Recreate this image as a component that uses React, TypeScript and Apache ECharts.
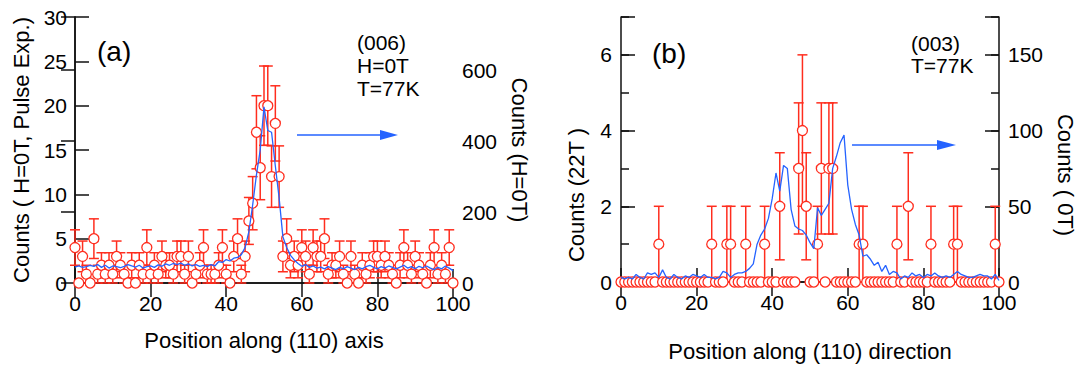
import React, { useEffect, useRef } from "react";
import * as echarts from "echarts";

// Panel (a): value at index i is measured at position i along (110)
const countsA = [
  4, 0, 3, 1, 0, 5, 1, 2, 1, 2,
  1, 3, 2, 1, 0, 2, 0, 2, 1, 4,
  1, 2, 1, 3, 2, 2, 1, 3, 3, 1,
  3, 0, 1, 2, 4, 1, 1, 1, 2, 4,
  1, 0, 3, 5, 1, 3, 7, 9, 17, 13,
  20, 20, 12, 18, 12, 3, 5, 2, 3, 2,
  4, 3, 1, 4, 3, 3, 5, 1, 2, 2,
  3, 1, 0, 3, 1, 0, 2, 1, 2, 3,
  3, 2, 3, 2, 1, 0, 2, 4, 2, 1,
  3, 2, 1, 0, 2, 4, 1, 2, 1, 4,
  0,
];
const lineA = [
  45, 48, 44, 46, 50, 47, 52, 44, 50, 42,
  48, 46, 43, 47, 52, 48, 45, 50, 42, 46,
  48, 44, 51, 47, 54, 50, 55, 52, 56, 50,
  54, 48, 52, 47, 50, 46, 52, 48, 60, 58,
  66, 62, 70, 72, 80, 100, 145, 220, 305, 375,
  497, 430, 425, 330, 240, 130, 100, 78, 65, 55,
  47, 52, 44, 48, 42, 45, 40, 46, 42, 38,
  44, 40, 46, 42, 38, 44, 40, 46, 50, 44,
  40, 46, 42, 48, 44, 40, 45, 50, 42, 46,
  40, 47, 43, 48, 42, 38, 44, 40, 48, 42,
  35,
];
// Panel (b)
const countsB = [
  0, 0, 0, 0, 0, 0, 0, 0, 0, 0,
  1, 0, 0, 0, 0, 0, 0, 0, 0, 0,
  0, 0, 0, 0, 1, 0, 0, 0, 1, 1,
  0, 0, 0, 1, 0, 0, 0, 0, 1, 0,
  0, 0, 2, 0, 0, 0, 0, 3, 4, 2,
  0, 0, 1, 3, 0, 3, 3, 0, 0, 0,
  0, 0, 0, 1, 1, 0, 0, 0, 0, 0,
  0, 0, 0, 1, 0, 0, 2, 0, 0, 0,
  0, 0, 1, 0, 0, 0, 0, 0, 1, 1,
  0, 0, 0, 0, 0, 0, 0, 0, 0, 1,
  0,
];
const lineB = [
  3, 2, 3, 2, 5, 3, 2, 6, 5, 6,
  3, 8, 3, 2, 5, 3, 2, 4, 3, 5,
  4, 3, 5, 3, 3, 2, 3, 7, 6, 3,
  5, 6, 6, 7, 9, 12, 25, 31, 35, 42,
  55, 72, 60, 77, 75, 48, 37, 35, 34, 31,
  26, 22, 49, 44, 48, 52, 75, 83, 92, 97,
  64, 48, 38, 31, 17, 18, 15, 11, 13, 7,
  11, 5, 7, 6, 2, 4, 3, 6, 4, 5,
  3, 5, 4, 6, 4, 3, 4, 3, 5, 7,
  5, 4, 3, 3, 4, 5, 4, 4, 2, 5,
  1,
];
const xTicks = { min: 0, max: 100, interval: 20 };

const RED = "#ff2d1e";
const BLUE = "#2563ff";
const FONT = '"Liberation Sans", Arial, Helvetica, sans-serif';
const INK = "#111";

const errorBar = (params: any, api: any) => {
  const x = api.value(0);
  const y = api.value(1);
  const e = api.value(2);
  if (!e) return null;
  const hi = api.coord([x, y + e]);
  const lo = api.coord([x, y - e]);
  const w = 5;
  const style = { stroke: RED, lineWidth: 1.5, fill: "none" };
  return {
    type: "group",
    children: [
      { type: "line", shape: { x1: hi[0], y1: hi[1], x2: lo[0], y2: lo[1] }, style },
      { type: "line", shape: { x1: hi[0] - w, y1: hi[1], x2: hi[0] + w, y2: hi[1] }, style },
      { type: "line", shape: { x1: lo[0] - w, y1: lo[1], x2: lo[0] + w, y2: lo[1] }, style },
    ],
  };
};

const axisLine = { show: true, lineStyle: { color: INK, width: 1.5 } };
const tick = (len: number) => ({ show: true, inside: true, length: len, lineStyle: { color: INK, width: 1.5 } });
const label = (margin: number, formatter?: any) => ({
  show: true, color: "#000", fontSize: 21, fontFamily: FONT, margin, formatter,
});
const nameStyle = { color: "#000", fontSize: 22, fontFamily: FONT };

const annot = (text: string, x: number, y: number, size: number) => ({
  type: "text", x, y,
  style: { text, font: `${size}px ${FONT}`, fill: "#000", align: "left", verticalAlign: "middle" },
});

export default function App() {
  const ref = useRef<HTMLDivElement>(null);
  useEffect(() => {
    if (!ref.current) return;
    const chart = echarts.init(ref.current, null, { renderer: "svg" });
    const errA = countsA.map((c, i) => [i, c, Math.sqrt(c)]);
    const errB = countsB.map((c, i) => [i, c, Math.sqrt(c)]);
    const ptsA = countsA.map((c, i) => [i, c]);
    const ptsB = countsB.map((c, i) => [i, c]);
    const blA = lineA.map((v, i) => [i, v]);
    const blB = lineB.map((v, i) => [i, v]);

    const bottomX = (grid: number, name: string, gap: number) => ({
      type: "value", gridIndex: grid, position: "bottom", ...xTicks,
      axisLine, axisTick: tick(14), axisLabel: label(10), splitLine: { show: false },
      name, nameLocation: "middle", nameGap: gap, nameTextStyle: nameStyle,
    });
    const topX = (grid: number) => ({
      type: "value", gridIndex: grid, position: "top", ...xTicks,
      axisLine, axisTick: tick(14), axisLabel: { show: false }, splitLine: { show: false },
    });

    chart.setOption({
      animation: false,
      backgroundColor: "#fff",
      grid: [
        { left: 75, top: 17, width: 378, height: 266 },
        { left: 621, top: 17, width: 378, height: 266 },
      ],
      xAxis: [
        bottomX(0, "Position along (110) axis", 46),
        topX(0),
        bottomX(1, "Position along (110) direction", 58),
        topX(1),
      ],
      yAxis: [
        {
          type: "value", gridIndex: 0, position: "left", min: 0, max: 30, interval: 5,
          axisLine, axisTick: tick(14), axisLabel: label(8), splitLine: { show: false },
          name: "Counts ( H=0T, Pulse Exp.)", nameLocation: "middle", nameGap: 43, nameRotate: 90,
          nameTextStyle: nameStyle,
        },
        {
          type: "value", gridIndex: 0, position: "right", min: 0, max: 750, interval: 200,
          axisLine, axisTick: tick(14),
          axisLabel: label(9, (v: number) => (v % 200 === 0 ? String(v) : "")),
          splitLine: { show: false },
          name: "Counts (H=0T)", nameLocation: "middle", nameGap: 55, nameRotate: -90,
          nameTextStyle: nameStyle,
        },
        {
          type: "value", gridIndex: 1, position: "left", min: 0, max: 7, interval: 2,
          axisLine, axisTick: tick(14),
          axisLabel: label(9, (v: number) => (v % 2 === 0 ? String(v) : "")),
          splitLine: { show: false },
        },
        {
          type: "value", gridIndex: 1, position: "left", min: 0, max: 7, interval: 1,
          axisLine: { show: false }, axisTick: tick(8), axisLabel: { show: false },
          splitLine: { show: false },
        },
        {
          type: "value", gridIndex: 1, position: "right", min: 0, max: 175, interval: 50,
          axisLine, axisTick: tick(14),
          axisLabel: label(9, (v: number) => (v % 50 === 0 ? String(v) : "")),
          splitLine: { show: false },
        },
        {
          type: "value", gridIndex: 1, position: "right", min: 0, max: 175, interval: 25,
          axisLine: { show: false }, axisTick: tick(8), axisLabel: { show: false },
          splitLine: { show: false },
        },
      ],
      series: [
        { type: "custom", xAxisIndex: 0, yAxisIndex: 0, renderItem: errorBar, data: errA, z: 2 },
        {
          type: "scatter", xAxisIndex: 0, yAxisIndex: 0, data: ptsA, symbol: "circle", symbolSize: 10,
          itemStyle: { color: "#fff", borderColor: RED, borderWidth: 1.3, opacity: 1 }, z: 3,
        },
        {
          type: "line", xAxisIndex: 0, yAxisIndex: 1, data: blA, showSymbol: false,
          lineStyle: { color: BLUE, width: 1.3 }, z: 4,
        },
        { type: "custom", xAxisIndex: 2, yAxisIndex: 2, renderItem: errorBar, data: errB, z: 2 },
        {
          type: "scatter", xAxisIndex: 2, yAxisIndex: 2, data: ptsB, symbol: "circle", symbolSize: 10,
          itemStyle: { color: "#fff", borderColor: RED, borderWidth: 1.3, opacity: 1 }, z: 3,
        },
        {
          type: "line", xAxisIndex: 2, yAxisIndex: 4, data: blB, showSymbol: false,
          lineStyle: { color: BLUE, width: 1.3 }, z: 4,
        },
      ],
      graphic: [
        annot("(a)", 97, 51, 28),
        annot("(006)", 357, 42, 21),
        annot("H=0T", 357, 65, 21),
        annot("T=77K", 357, 88, 21),
        { type: "line", shape: { x1: 297, y1: 135, x2: 384, y2: 135 }, style: { stroke: BLUE, lineWidth: 1.6 } },
        { type: "polygon", shape: { points: [[380, 130], [398, 135], [380, 140]] }, style: { fill: BLUE } },
        annot("(b)", 652, 53, 28),
        annot("(003)", 911, 43, 21),
        annot("T=77K", 911, 65, 21),
        { type: "line", shape: { x1: 852, y1: 145, x2: 941, y2: 145 }, style: { stroke: BLUE, lineWidth: 1.6 } },
        { type: "polygon", shape: { points: [[937, 140], [956, 145], [937, 150]] }, style: { fill: BLUE } },
        { type: "text", x: 576, y: 195, rotation: Math.PI / 2, style: { text: "Counts (22T )", font: `22px ${FONT}`, fill: "#000", align: "center", verticalAlign: "middle" } },
        { type: "text", x: 1065, y: 175, rotation: -Math.PI / 2, style: { text: "Counts ( 0T)", font: `22px ${FONT}`, fill: "#000", align: "center", verticalAlign: "middle" } },
      ],
    });
    return () => chart.dispose();
  }, []);
  return (
    <div
      ref={ref}
      style={{ position: "absolute", left: 0, top: 0, width: 1078, height: 367, background: "#fff" }}
    />
  );
}
